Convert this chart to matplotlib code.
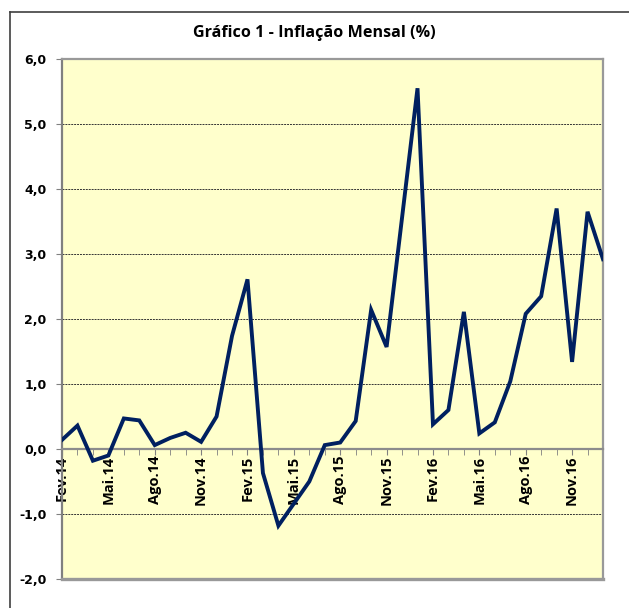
import matplotlib.pyplot as plt
import numpy as np

# meses de Fev.14 a Jan.17
meses = ['Fev.14', 'Mar.14', 'Abr.14', 'Mai.14', 'Jun.14', 'Jul.14', 'Ago.14', 'Set.14', 'Out.14', 'Nov.14', 'Dez.14', 'Jan.15',
         'Fev.15', 'Mar.15', 'Abr.15', 'Mai.15', 'Jun.15', 'Jul.15', 'Ago.15', 'Set.15', 'Out.15', 'Nov.15', 'Dez.15', 'Jan.16',
         'Fev.16', 'Mar.16', 'Abr.16', 'Mai.16', 'Jun.16', 'Jul.16', 'Ago.16', 'Set.16', 'Out.16', 'Nov.16', 'Dez.16', 'Jan.17']
inflacao = [0.14, 0.36, -0.18, -0.10, 0.47, 0.44, 0.06, 0.17, 0.25, 0.11, 0.50, 1.74,
            2.61, -0.37, -1.18, -0.84, -0.50, 0.06, 0.10, 0.43, 2.14, 1.57, 3.56, 5.55,
            0.38, 0.60, 2.11, 0.24, 0.41, 1.04, 2.08, 2.35, 3.70, 1.34, 3.65, 2.92]
yticks = [-2, -1, 0, 1, 2, 3, 4, 5, 6]

W, H = 629, 608
fig = plt.figure(figsize=(W/100, H/100), dpi=100)
ax = fig.add_axes([62/W, (H-579)/H, (603-62)/W, (579-59)/H])

# moldura da figura (so esquerda e topo)
fig.add_artist(plt.Line2D([10/W, 10/W], [0, (H-12)/H], color='#404040', lw=1.2, transform=fig.transFigure))
fig.add_artist(plt.Line2D([10/W, 1], [(H-12)/H, (H-12)/H], color='#404040', lw=1.2, transform=fig.transFigure))

x = np.arange(len(meses))
ax.set_facecolor('#FFFFCC')
ax.plot(x, inflacao, color='#002060', lw=2.8, solid_joinstyle='miter', zorder=5)

ax.set_xlim(0, len(meses)-1)
ax.set_ylim(-2, 6)
ax.set_yticks(yticks)
ax.set_yticklabels([('%.1f' % v).replace('.', ',') for v in yticks], fontsize=9, fontweight='bold', family='DejaVu Sans')
for v in yticks[1:-1]:
    if v != 0:
        ax.axhline(v, color='#333333', lw=0.7, ls=(0, (2, 1)), zorder=1)
ax.tick_params(axis='y', direction='out', length=4, color='#808080', pad=7)

# eixo x cruzando em zero
ax.spines['bottom'].set_position(('data', 0))
ax.spines['bottom'].set_color('#8c8c8c')
ax.spines['bottom'].set_linewidth(1.6)
ax.set_xticks(x[::3])
ax.set_xticklabels(meses[::3], rotation=90, fontsize=10.5, fontweight='bold', family='Open Sans', va='top')
ax.set_xticks(x, minor=True)
ax.tick_params(axis='x', which='both', direction='out', length=4, color='#808080', pad=1)
ax.axhline(-2, color='#999999', lw=2.4, zorder=6, clip_on=False)
for s in ['left', 'right', 'top']:
    ax.spines[s].set_color('#999999')
    ax.spines[s].set_linewidth(1.6)
ax.spines['left'].set_color('#808080')

fig.text(314/W, (H-33)/H, 'Gráfico 1 - Inflação Mensal (%)', ha='center', va='center',
         fontsize=11.6, fontweight='bold', family='Open Sans')

plt.savefig('out.png', dpi=100)
